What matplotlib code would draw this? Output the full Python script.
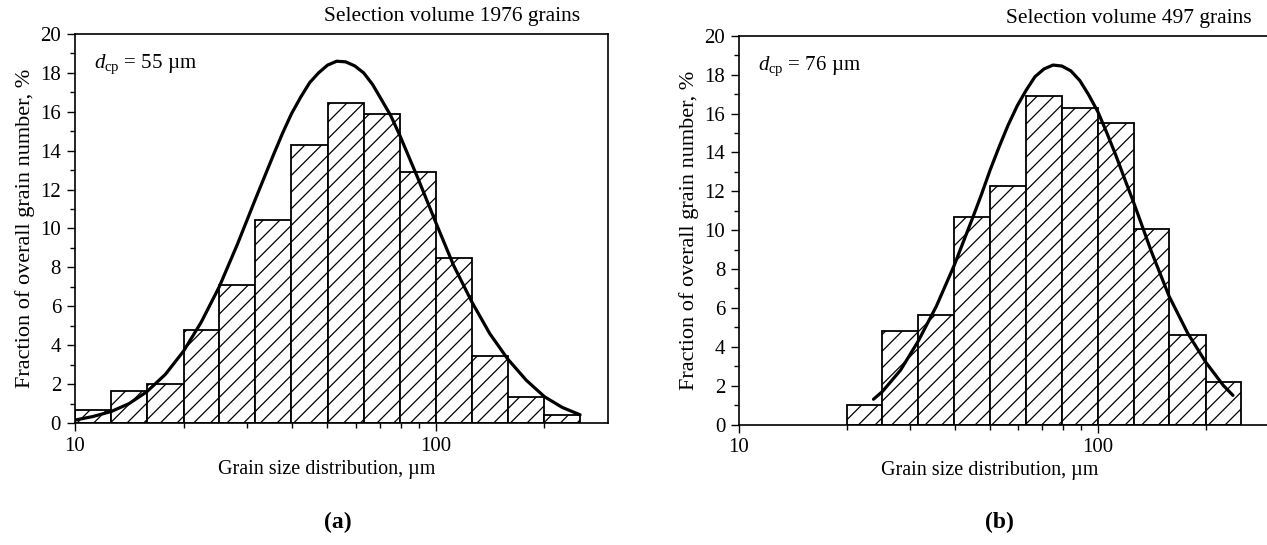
import numpy as np
import matplotlib
matplotlib.use("Agg")
import matplotlib.pyplot as plt
from matplotlib.ticker import FixedLocator, NullFormatter, MultipleLocator

plt.rcParams['font.family'] = ['Liberation Serif', 'DejaVu Serif']
plt.rcParams['mathtext.fontset'] = 'custom'
plt.rcParams['mathtext.rm'] = 'Liberation Serif'
plt.rcParams['mathtext.it'] = 'Liberation Serif:italic'
plt.rcParams['hatch.linewidth'] = 0.9

# panel (a): 1976 grains
edges_a = [10, 12.6, 15.8, 20, 25.1, 31.6, 39.8, 50.1, 63.1, 79.4, 100, 126, 158, 200, 251]
frac_a = [0.66, 1.65, 2.0, 4.77, 7.1, 10.45, 14.3, 16.45, 15.9, 12.9, 8.5, 3.45, 1.35, 0.42]
curve_a_x = [10, 11.2, 12.6, 14.1, 15.8, 17.8, 20, 22.4, 25.1, 28.2, 31.6, 35.5, 37.6, 39.8,
             42.2, 44.7, 47.3, 50.1, 53.1, 56.2, 59.6, 63.1, 66.8, 70.8, 75.0, 79.4, 84.1,
             89.1, 100, 112, 126, 141, 158, 178, 200, 224, 251]
curve_a_y = [0.15, 0.33, 0.59, 0.99, 1.6, 2.5, 3.7, 5.2, 7.0, 9.2, 11.5, 13.8, 14.9, 15.9,
             16.75, 17.5, 18.0, 18.4, 18.6, 18.57, 18.36, 18.0, 17.4, 16.6, 15.8, 14.8, 13.7,
             12.6, 10.3, 8.1, 6.2, 4.6, 3.3, 2.2, 1.35, 0.8, 0.42]

# panel (b): 497 grains
edges_b = [20, 25.1, 31.6, 39.8, 50.1, 63.1, 79.4, 100, 126, 158, 200, 251]
frac_b = [1.0, 4.8, 5.65, 10.7, 12.3, 16.9, 16.3, 15.5, 10.05, 4.6, 2.2]
curve_b_x = [23.7, 25.1, 28.2, 31.6, 35.5, 39.8, 44.7, 47.3, 50.1, 53.1, 56.2, 59.6, 63.1,
             66.8, 70.8, 75.0, 79.4, 84.1, 89.1, 94.4, 100, 106, 112, 119, 126, 141, 158,
             178, 200, 224, 238]
curve_b_y = [1.3, 1.7, 2.8, 4.3, 6.1, 8.2, 10.6, 11.8, 13.1, 14.3, 15.4, 16.4, 17.2,
             17.9, 18.3, 18.5, 18.45, 18.2, 17.7, 16.95, 16.1, 15.0, 13.9, 12.6, 11.4, 8.9, 6.6,
             4.7, 3.2, 2.0, 1.5]

panels = [
    dict(edges=edges_a, frac=frac_a, cx=curve_a_x, cy=curve_a_y, d='55',
         title='Selection volume 1976 grains', tag='(a)',
         rect=[0.0592, 0.2239, 0.4207, 0.7137], title_x=0.947, tag_x=0.267),
    dict(edges=edges_b, frac=frac_b, cx=curve_b_x, cy=curve_b_y, d='76',
         title='Selection volume 497 grains', tag='(b)',
         rect=[0.5833, 0.2211, 0.4183, 0.7130], title_x=0.968, tag_x=0.789),
]

fig = plt.figure(figsize=(12.67, 5.45), dpi=100)

for p in panels:
    ax = fig.add_axes(p['rect'])
    e = np.array(p['edges'])
    ax.bar(e[:-1], p['frac'], width=e[1:] - e[:-1], align='edge',
           facecolor='white', edgecolor='black', linewidth=1.3, hatch='//', zorder=2)
    ax.plot(p['cx'], p['cy'], color='black', linewidth=2.3, zorder=3,
            solid_joinstyle='round', solid_capstyle='round')

    ax.set_xscale('log')
    ax.set_xlim(10, 300)
    ax.set_ylim(0, 20)
    ax.xaxis.set_major_locator(FixedLocator([10, 100]))
    ax.xaxis.set_major_formatter(plt.FuncFormatter(lambda v, pos: '%d' % v))
    ax.xaxis.set_minor_locator(FixedLocator([20, 30, 40, 50, 60, 70, 80, 90, 200]))
    ax.xaxis.set_minor_formatter(NullFormatter())
    ax.yaxis.set_major_locator(MultipleLocator(2))
    ax.yaxis.set_minor_locator(MultipleLocator(1))

    ax.tick_params(which='both', direction='out', top=False, right=False, labelsize=15, width=1.0)
    ax.tick_params(which='major', length=6, pad=4)
    ax.tick_params(which='minor', length=3.5)
    for s in ax.spines.values():
        s.set_linewidth(1.2)

    ax.set_xlabel('Grain size distribution, µm', fontsize=14.5)
    ax.xaxis.set_label_coords(0.473, -0.095)
    ax.set_ylabel('Fraction of overall grain number, %', fontsize=16, labelpad=4)

    ax.text(0.036, 0.922, r'$d_{\mathrm{cp}}$ = ' + p['d'] + ' µm', transform=ax.transAxes,
            fontsize=15, ha='left', va='center')
    ax.text(p['title_x'], 1.033, p['title'], transform=ax.transAxes,
            fontsize=15.5, ha='right', va='baseline')
    fig.text(p['tag_x'], 0.042, p['tag'], fontsize=17, fontweight='bold', ha='center', va='center')

fig.savefig('out.png', dpi=100)
